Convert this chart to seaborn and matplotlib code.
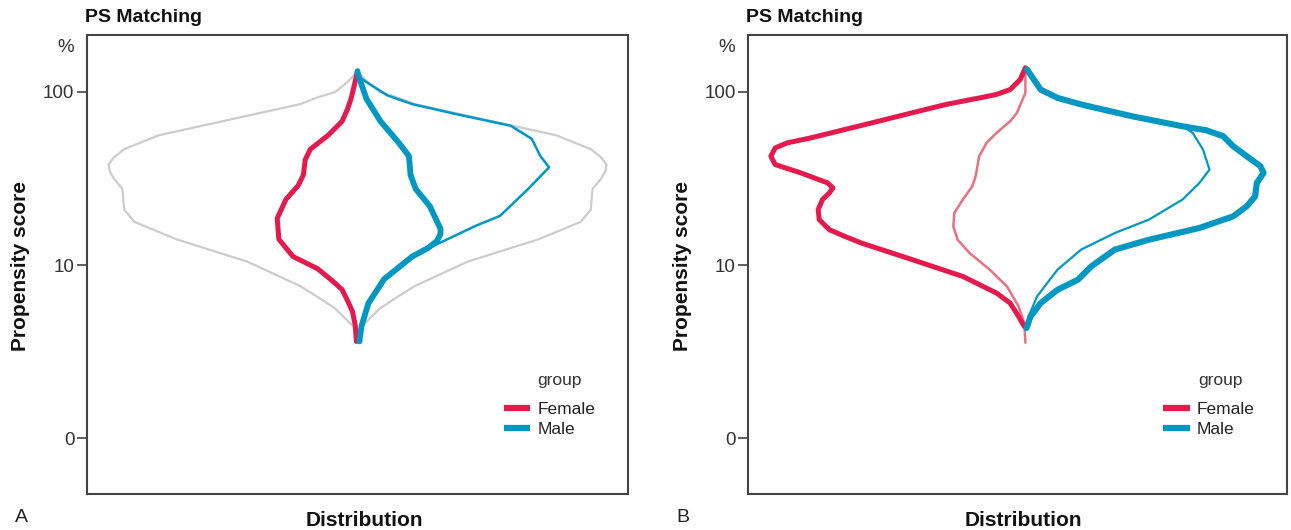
import numpy as np
import pandas as pd
import matplotlib
matplotlib.use("Agg")
import matplotlib.pyplot as plt
from matplotlib.lines import Line2D
import seaborn as sns

sns.set_theme(style="white")
plt.rcParams["font.family"] = ["Liberation Sans", "DejaVu Sans"]

RED = "#E5194C"
RED_LIGHT = "#EC7080"
BLUE = "#0098C3"
GRAY = "#CCCCCC"

# ---------------- data (y = log10 propensity score %, width = density half-width) ----
# Panel A
a_gray_y = [2.12, 2.06, 2.00, 1.97, 1.93, 1.84, 1.75, 1.67, 1.62, 1.58, 1.54, 1.50, 1.44,
            1.32, 1.25, 1.15, 1.02, 0.88, 0.81, 0.75, 0.65, 0.62]
a_gray_w = [0.0, 0.035, 0.082, 0.145, 0.21, 0.47, 0.73, 0.857, 0.897, 0.915, 0.91, 0.895,
            0.864, 0.857, 0.82, 0.666, 0.404, 0.211, 0.14, 0.082, 0.018, 0.0]

a_female_y = [2.12, 2.05, 1.96, 1.90, 1.83, 1.75, 1.67, 1.61, 1.52, 1.46, 1.38, 1.27,
              1.15, 1.05, 0.98, 0.92, 0.86, 0.79, 0.73, 0.65, 0.56]
a_female_w = [0.0, 0.01, 0.024, 0.037, 0.057, 0.108, 0.173, 0.192, 0.199, 0.218, 0.263, 0.295,
              0.289, 0.237, 0.147, 0.10, 0.057, 0.035, 0.018, 0.008, 0.004]

a_male_y = [2.12, 2.10, 1.96, 1.83, 1.71, 1.63, 1.52, 1.44, 1.34, 1.21, 1.18, 1.14,
            1.10, 1.05, 0.92, 0.78, 0.65, 0.56]
a_male_w = [0.0, 0.002, 0.033, 0.085, 0.15, 0.189, 0.195, 0.214, 0.266, 0.305, 0.305, 0.292,
            0.26, 0.201, 0.098, 0.04, 0.015, 0.007]

a_male_all_y = [2.12, 2.09, 2.05, 1.98, 1.93, 1.87, 1.805, 1.73, 1.63, 1.565, 1.44, 1.285,
                1.227, 1.131, 1.054, 0.92, 0.78, 0.65, 0.56]
a_male_all_w = [0.0, 0.002, 0.04, 0.11, 0.201, 0.369, 0.563, 0.64, 0.672, 0.704, 0.627, 0.524,
                0.434, 0.305, 0.201, 0.098, 0.04, 0.015, 0.007]

# Panel B
b_female_all_y = [2.140, 2.072, 2.014, 1.986, 1.966, 1.928, 1.880, 1.831, 1.783, 1.735, 1.706,
                  1.677, 1.629, 1.581, 1.533, 1.475, 1.446, 1.417, 1.379, 1.321, 1.263, 1.205,
                  1.167, 1.128, 1.032, 0.935, 0.839, 0.781, 0.704, 0.646]
b_female_all_w = [0.0, 0.019, 0.056, 0.106, 0.168, 0.292, 0.416, 0.541, 0.665, 0.789, 0.876,
                  0.920, 0.936, 0.920, 0.826, 0.727, 0.708, 0.721, 0.746, 0.762, 0.758, 0.721,
                  0.665, 0.603, 0.416, 0.230, 0.106, 0.056, 0.025, 0.004]

b_female_y = [2.111, 1.995, 1.880, 1.831, 1.764, 1.706, 1.629, 1.513, 1.456, 1.379, 1.302,
              1.224, 1.147, 1.070, 0.974, 0.878, 0.762, 0.666, 0.552]
b_female_w = [0.0, 0.0, 0.031, 0.056, 0.106, 0.143, 0.170, 0.183, 0.195, 0.230, 0.261,
              0.265, 0.249, 0.205, 0.131, 0.068, 0.025, 0.004, 0.0]

b_male_all_y = [2.130, 2.014, 1.966, 1.928, 1.860, 1.802, 1.779, 1.745, 1.687, 1.629, 1.572,
                1.533, 1.475, 1.398, 1.340, 1.282, 1.215, 1.147, 1.090, 0.993, 0.916, 0.858,
                0.781, 0.704, 0.637]
b_male_all_w = [0.006, 0.056, 0.118, 0.205, 0.392, 0.578, 0.665, 0.727, 0.764, 0.814, 0.864,
                0.876, 0.851, 0.845, 0.814, 0.764, 0.640, 0.454, 0.329, 0.242, 0.193, 0.118,
                0.056, 0.019, 0.004]

b_male_y = [2.130, 2.014, 1.966, 1.928, 1.860, 1.802, 1.764, 1.668, 1.552, 1.475, 1.379,
            1.263, 1.186, 1.090, 0.974, 0.820, 0.704, 0.637]
b_male_w = [0.006, 0.056, 0.118, 0.205, 0.392, 0.578, 0.615, 0.653, 0.677, 0.640, 0.578,
            0.454, 0.329, 0.205, 0.118, 0.043, 0.012, 0.0]

ytick_pos = [0, 1, 2]
ytick_labels = ["0", "10", "100"]
legend_groups = ["Female", "Male"]


def curve(ys, ws, side):
    return pd.DataFrame({"y": ys, "x": [side * w for w in ws]})


W, H = 1291, 530
fig = plt.figure(figsize=(W / 100, H / 100), dpi=100)
fig.patch.set_facecolor("white")


def px_axes(left, right, top, bottom):
    return fig.add_axes([left / W, 1 - bottom / H, (right - left) / W, (bottom - top) / H])


axA = px_axes(87, 628, 35, 494)
axB = px_axes(748, 1287, 35, 494)

panelA = [
    (curve(a_gray_y, a_gray_w, -1), GRAY, 1.6),
    (curve(a_gray_y, a_gray_w, 1), GRAY, 1.6),
    (curve(a_male_all_y, a_male_all_w, 1), BLUE, 1.8),
    (curve(a_female_y, a_female_w, -1), RED, 3.6),
    (curve(a_male_y, a_male_w, 1), BLUE, 4.2),
]
panelB = [
    (curve(b_female_y, b_female_w, -1), RED_LIGHT, 1.8),
    (curve(b_male_y, b_male_w, 1), BLUE, 1.6),
    (curve(b_female_all_y, b_female_all_w, -1), RED, 3.6),
    (curve(b_male_all_y, b_male_all_w, 1), BLUE, 4.4),
]


def style_axes(ax, xlim):
    ax.set_xlim(*xlim)
    ax.set_ylim(-0.321, 2.329)
    ax.set_yticks(ytick_pos)
    ax.set_yticklabels(ytick_labels)
    ax.set_xticks([])
    ax.set_xlabel("")
    ax.set_ylabel("")
    ax.set_facecolor("white")
    for s in ax.spines.values():
        s.set_color("#444444")
        s.set_linewidth(1.5)
        s.set_visible(True)
    ax.tick_params(axis="y", direction="out", length=7, width=1.2, color="#444444",
                   labelsize=13.5, labelcolor="#333333", pad=2, left=True)
    handles = [Line2D([], [], color=RED, lw=4.5, solid_capstyle="butt"),
               Line2D([], [], color=BLUE, lw=4.5, solid_capstyle="butt")]
    leg = ax.legend(handles, legend_groups, loc="upper left",
                    bbox_to_anchor=(0.770, 0.2015), frameon=False, fontsize=12.5,
                    handlelength=1.55, handletextpad=0.4, labelspacing=0.32,
                    borderpad=0, borderaxespad=0)
    for t in leg.get_texts():
        t.set_color("#222222")


for ax, panel, xlim in [(axA, panelA, (-0.994, 0.994)), (axB, panelB, (-1.020, 0.962))]:
    for df, col, lw in panel:
        sns.lineplot(data=df, x="x", y="y", orient="y", estimator=None, sort=True,
                     color=col, linewidth=lw, ax=ax, legend=False,
                     solid_joinstyle="round", solid_capstyle="round")
    style_axes(ax, xlim)


def ftxt(x, y, s, **kw):
    fig.text(x / W, 1 - y / H, s, **kw)


for dx, letter, dist_x, group_x in [(0, "A", 364, 537), (661, "B", 1023, 1198)]:
    ftxt(85 + dx, 17, "PS Matching", fontsize=14, fontweight="bold", va="center", ha="left",
         color="#111111")
    ftxt(66 + dx, 48, "%", fontsize=13.5, va="center", ha="center", color="#333333")
    ftxt(15 + dx, 518, letter, fontsize=14, va="center", ha="left", color="#222222")
    ftxt(dist_x, 520, "Distribution", fontsize=15, fontweight="bold", va="center",
         ha="center", color="#111111")
    ftxt(21 + dx, 266, "Propensity score", fontsize=15, fontweight="bold", va="center",
         ha="center", rotation=90, color="#111111")
    ftxt(group_x, 380, "group", fontsize=12.5, va="center", ha="left", color="#333333")

fig.savefig("out.png", dpi=100, facecolor="white")
